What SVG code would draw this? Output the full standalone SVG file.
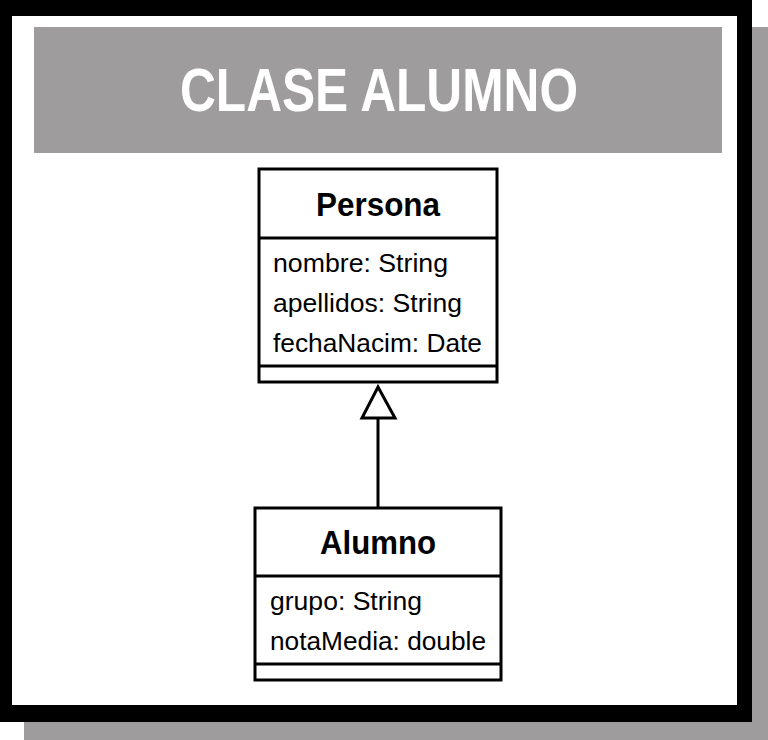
<svg xmlns="http://www.w3.org/2000/svg" width="768" height="740" viewBox="0 0 768 740">
<style>
.box{fill:#fff;stroke:#000;stroke-width:3}
.ln{stroke:#000;stroke-width:3}
.cn{font-family:"Liberation Sans",Arial,sans-serif;font-weight:bold;font-size:34px;text-anchor:middle}
.at{font-family:"Liberation Sans",Arial,sans-serif;font-size:26px}
</style>
<rect x="24" y="27" width="744" height="713" fill="#9e9c9d"/>
<rect x="0" y="0" width="752" height="722" fill="#000"/>
<rect x="12" y="16" width="725" height="689" fill="#fff"/>
<g id="header">
<rect x="34" y="27" width="688" height="126" fill="#9e9c9d"/>
<text x="379" y="111" font-family="Liberation Sans,Arial,sans-serif" font-weight="bold" font-size="62" fill="#fff" text-anchor="middle" textLength="398" lengthAdjust="spacingAndGlyphs">CLASE ALUMNO</text>
</g>
<g id="persona">
<rect class="box" x="259" y="169" width="238" height="213"/>
<line class="ln" x1="259" y1="238" x2="497" y2="238"/>
<line class="ln" x1="259" y1="366" x2="497" y2="366"/>
<text class="cn" x="378" y="216" textLength="124" lengthAdjust="spacingAndGlyphs">Persona</text>
<text class="at" x="273" y="272" textLength="175" lengthAdjust="spacingAndGlyphs">nombre: String</text>
<text class="at" x="273" y="312" textLength="189" lengthAdjust="spacingAndGlyphs">apellidos: String</text>
<text class="at" x="273" y="352" textLength="209" lengthAdjust="spacingAndGlyphs">fechaNacim: Date</text>
</g>
<g id="alumno">
<rect class="box" x="255" y="508" width="246" height="172"/>
<line class="ln" x1="255" y1="576" x2="501" y2="576"/>
<line class="ln" x1="255" y1="664" x2="501" y2="664"/>
<text class="cn" x="378" y="554" textLength="116" lengthAdjust="spacingAndGlyphs">Alumno</text>
<text class="at" x="270" y="610" textLength="152" lengthAdjust="spacingAndGlyphs">grupo: String</text>
<text class="at" x="270" y="650" textLength="216" lengthAdjust="spacingAndGlyphs">notaMedia: double</text>
</g>
<g id="connectors">
<line class="ln" x1="378" y1="418" x2="378" y2="508"/>
<polygon points="378,387 362,418 395,418" fill="#fff" stroke="#000" stroke-width="3"/>
</g>
</svg>
